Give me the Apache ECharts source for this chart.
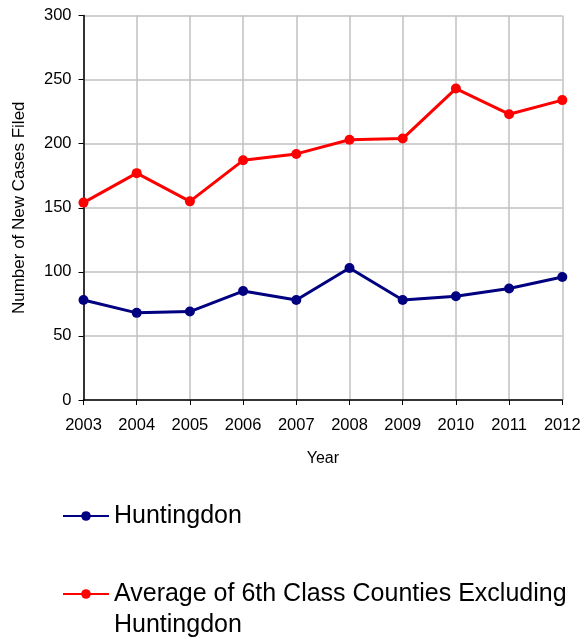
<!DOCTYPE html>
<html>
<head>
<meta charset="utf-8">
<script src="https://cdn.jsdelivr.net/npm/echarts@6/dist/echarts.min.js"></script>
<style>
  html, body { margin: 0; padding: 0; background: #fff; }
  #chart { width: 580px; height: 639px; }
</style>
</head>
<body>
<div id="chart"></div>
<script>
const years = ["2003", "2004", "2005", "2006", "2007", "2008", "2009", "2010", "2011", "2012"];
const huntingdon = [78, 68, 69, 85, 78, 103, 78, 81, 87, 96];
const classAverage = [154, 177, 155, 187, 192, 203, 204, 243, 223, 234];
const seriesNames = ["Huntingdon", "Average of 6th Class Counties Excluding Huntingdon"];

const font = "Liberation Sans, Arial, sans-serif";
const legendLine = 31;

const chart = echarts.init(document.getElementById("chart"));

chart.setOption({
  animation: false,
  textStyle: { fontFamily: font },
  grid: {
    left: 83.5,
    right: 17.7,
    top: 15.5,
    bottom: 239,
    outerBoundsMode: "none",
    containLabel: false,
  },
  legend: {
    orient: "vertical",
    left: 57,
    top: 500.5,
    height: 300,
    padding: [0, 5],
    itemWidth: 46,
    itemHeight: 12,
    itemGap: 16,
    textStyle: {
      fontFamily: font,
      fontSize: 25,
      color: "#000",
      lineHeight: legendLine,
      rich: {
        t: { fontFamily: font, fontSize: 25, color: "#000", lineHeight: legendLine },
        s: { fontSize: 1, lineHeight: legendLine },
      },
    },
    // the long entry gets an empty first line so the marker sits beside its first text line
    formatter: (name) =>
      name.indexOf(" Huntingdon") > 0
        ? "{s| }\n{t|" + name.replace(" Huntingdon", "}\n{t|Huntingdon}")
        : name,
  },
  xAxis: {
    type: "category",
    data: years,
    boundaryGap: false,
    name: "Year",
    nameLocation: "middle",
    nameGap: 51,
    nameTextStyle: { fontSize: 16, color: "#000" },
    axisLine: { lineStyle: { color: "#000", width: 1.5 } },
    axisTick: { show: true, length: 5, lineStyle: { color: "#000" } },
    axisLabel: { fontSize: 16.5, color: "#000", margin: 17 },
    splitLine: { show: true, lineStyle: { color: "#c0c0c0", width: 1.5 } },
  },
  yAxis: {
    type: "value",
    min: 0,
    max: 300,
    interval: 50,
    name: "Number of New Cases Filed",
    nameLocation: "middle",
    nameGap: 56,
    nameTextStyle: { fontSize: 17, color: "#000" },
    axisLine: { show: true, lineStyle: { color: "#000", width: 1.5 } },
    axisTick: { show: true, length: 5, lineStyle: { color: "#000" } },
    axisLabel: { fontSize: 16.5, color: "#000", margin: 12 },
    splitLine: { show: true, lineStyle: { color: "#c0c0c0", width: 1.5 } },
  },
  series: [
    {
      name: seriesNames[0],
      type: "line",
      data: huntingdon,
      symbol: "circle",
      symbolSize: 10,
      color: "#000080",
      lineStyle: { width: 3, color: "#000080" },
      itemStyle: { color: "#000080" },
    },
    {
      name: seriesNames[1],
      type: "line",
      data: classAverage,
      symbol: "circle",
      symbolSize: 10,
      color: "#ff0000",
      lineStyle: { width: 3, color: "#ff0000" },
      itemStyle: { color: "#ff0000" },
    },
  ],
});
</script>
</body>
</html>
